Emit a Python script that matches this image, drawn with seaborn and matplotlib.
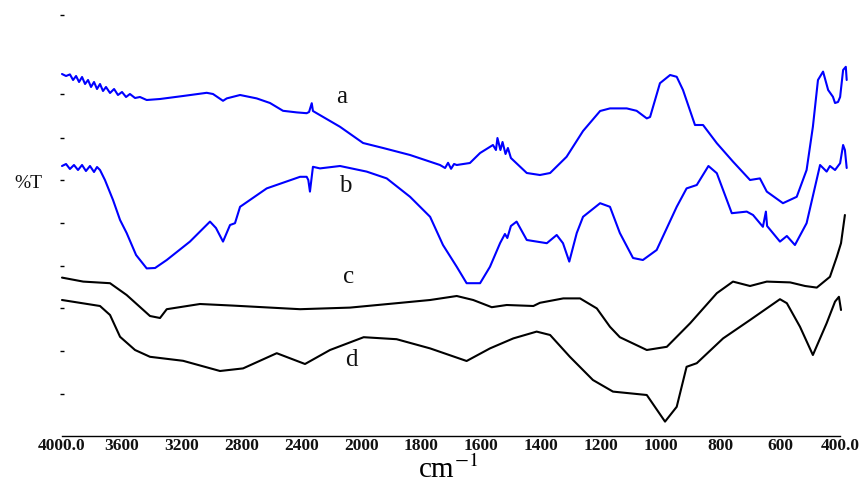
import numpy as np
import pandas as pd
import matplotlib
matplotlib.use("Agg")
import matplotlib.pyplot as plt
import seaborn as sns

# ---------------- data (wavenumber cm-1, %T arbitrary units) ----------------
a_wn = [4000, 3973, 3947, 3926, 3906, 3886, 3866, 3846, 3826, 3806, 3786, 3766, 3746,
        3726, 3706, 3679, 3652, 3626, 3599, 3572, 3546, 3512, 3479, 3434, 3345, 3191,
        3033, 2991, 2924, 2899, 2810, 2699, 2610, 2523, 2431, 2365, 2349, 2331, 2323,
        2298, 2142, 1994, 1927, 1837, 1737, 1720, 1710, 1700, 1690, 1681, 1637, 1603,
        1560, 1550, 1545, 1535, 1528, 1518, 1510, 1500, 1493, 1447, 1403, 1369, 1314,
        1259, 1202, 1169, 1113, 1080, 1046, 1035, 1002, 968, 946, 925, 885, 858, 812,
        758, 701, 668, 645, 591, 545, 512, 491, 474, 457, 440, 424, 417, 407, 400, 390,
        381, 378]
a_T = [91.5, 91.0, 91.4, 90.0, 91.0, 89.5, 90.75, 89.0, 90.0, 88.25, 89.5, 87.75, 89.0,
       87.25, 88.25, 86.75, 87.75, 86.25, 87.0, 85.75, 86.5, 85.5, 85.75, 85.0, 85.25, 86.0,
       86.8, 86.5, 84.8, 85.4, 86.25, 85.4, 84.25, 82.3, 81.9, 81.7, 82.0, 84.2, 82.25,
       81.7, 78.3, 74.25, 73.0, 71.25, 68.75, 68.0, 69.3, 67.8, 69.0, 68.75, 69.25, 71.75,
       73.75, 72.5, 75.5, 72.5, 74.5, 71.5, 73.0, 70.5, 70.0, 66.75, 66.25, 66.75, 70.8,
       77.25, 82.25, 82.9, 82.9, 82.3, 80.4, 80.75, 89.2, 91.25, 90.8, 87.5, 78.75, 78.75, 74.2,
       69.6, 65.0, 65.4, 62.1, 59.2, 60.8, 67.5, 78.3, 90.0, 92.1, 87.5, 85.8, 84.25, 84.5,
       85.75, 92.5, 93.3, 90.0]

b_wn = [4000, 3973, 3947, 3920, 3893, 3866, 3840, 3813, 3786, 3766, 3746, 3713, 3659,
        3612, 3568, 3505, 3434, 3378, 3300, 3145, 3011, 2971, 2924, 2877, 2844, 2810,
        2632, 2409, 2365, 2354, 2343, 2323, 2276, 2142, 1982, 1915, 1837, 1770, 1727,
        1681, 1648, 1603, 1570, 1536, 1520, 1512, 1500, 1481, 1447, 1380, 1347, 1326,
        1305, 1280, 1259, 1202, 1169, 1136, 1092, 1059, 1013, 946, 913, 879, 840, 812,
        762, 712, 691, 658, 648, 644, 601, 578, 551, 512, 467, 445, 434, 417, 400, 390,
        384, 378]
b_T = [68.5, 69.0, 67.75, 68.75, 67.5, 68.75, 67.25, 68.5, 67.0, 68.25, 67.5, 65.0, 60.0,
       55.0, 51.75, 46.25, 42.9, 43.0, 45.0, 49.6, 54.6, 53.0, 49.6, 53.75, 54.2, 58.3,
       62.9, 65.8, 65.8, 65.0, 62.1, 68.3, 67.9, 68.5, 67.1, 65.4, 60.8, 55.8, 48.75,
       43.3, 39.2, 39.2, 43.3, 49.25, 51.5, 50.5, 53.5, 54.6, 50.0, 49.2, 51.25, 49.2,
       44.6, 51.75, 55.8, 59.2, 58.3, 51.75, 45.5, 45.0, 47.5, 58.3, 62.9, 63.75, 68.5, 66.7,
       56.7, 57.1, 56.25, 53.3, 57.1, 53.5, 49.6, 51.0, 48.75, 54.2, 68.75, 67.1, 68.5, 67.5,
       69.2, 73.75, 72.5, 68.0]

c_wn = [4000, 3858, 3679, 3568, 3412, 3345, 3300, 3078, 2857, 2409, 2075, 1882, 1770,
        1681, 1626, 1564, 1514, 1425, 1403, 1325, 1269, 1213, 1169, 1136, 1046, 979, 901,
        812, 758, 701, 645, 567, 517, 478, 434, 411, 397, 384]
c_T = [40.6, 39.6, 39.2, 36.25, 31.0, 30.5, 32.7, 34.0, 33.6, 32.7, 33.1, 34.2, 35.0,
       36.0, 35.0, 33.2, 33.75, 33.5, 34.3, 35.4, 35.4, 32.9, 28.3, 25.7, 22.5, 23.3, 29.2,
       36.7, 39.6, 38.5, 39.6, 39.4, 38.5, 38.1, 40.8, 45.8, 49.2, 56.25]

d_wn = [4000, 3746, 3679, 3612, 3512, 3412, 3191, 2944, 2790, 2565, 2376, 2209, 1992,
        1882, 1770, 1648, 1570, 1492, 1414, 1369, 1303, 1226, 1159, 1046, 985, 946, 913,
        879, 791, 701, 601, 578, 534, 491, 445, 417, 404, 397]
d_T = [35.0, 33.5, 31.25, 25.8, 22.5, 20.8, 19.8, 17.25, 17.9, 21.7, 19.0, 22.5, 25.7,
       25.2, 22.9, 19.75, 22.9, 25.4, 27.1, 26.25, 20.8, 15.0, 12.1, 11.25, 4.6, 8.3, 18.3,
       19.2, 25.4, 30.0, 35.2, 34.2, 28.3, 21.25, 29.2, 34.6, 35.8, 32.5]

series_names = ["a", "b", "c", "d"]
series_colors = ["#0000ff", "#0000ff", "#000000", "#000000"]
label_wn = [2131, 2109, 2087, 2064]
label_T = [85.8, 63.5, 40.8, 20.0]

xtick_values = [4000, 3600, 3200, 2800, 2400, 2000, 1800, 1600, 1400, 1200, 1000, 800, 600, 400]
xtick_labels = ["4000.0", "3600", "3200", "2800", "2400", "2000", "1800", "1600",
                "1400", "1200", "1000", "800", "600", "400.0"]
ytick_values = [11.5, 22.3, 32.9, 43.6, 54.2, 65.0, 75.4, 86.4, 106.25]

# ---------------- figure ----------------
sns.set_style("white")
plt.rcParams["font.family"] = ["Liberation Serif", "DejaVu Serif"]
plt.rcParams["mathtext.fontset"] = "stix"

fig = plt.figure(figsize=(8.64, 4.88), dpi=100)
ax = fig.add_axes([62 / 864, 52 / 488, (847 - 62) / 864, (436 - 15) / 488])

frames = []
for name, wn, T in zip(series_names, [a_wn, b_wn, c_wn, d_wn], [a_T, b_T, c_T, d_T]):
    frames.append(pd.DataFrame({"wn": wn, "T": T, "s": name}))
df = pd.concat(frames, ignore_index=True)

sns.lineplot(data=df, x="wn", y="T", hue="s", palette=dict(zip(series_names, series_colors)),
             estimator=None, sort=False, linewidth=1.5, legend=False, ax=ax)
for ln in ax.get_lines():
    ln.set_clip_on(False)


def fwd(x):
    x = np.asarray(x, dtype=float)
    return np.where(x <= 2000, x, 2000 + (x - 2000) / 2)


def inv(u):
    u = np.asarray(u, dtype=float)
    return np.where(u <= 2000, u, 2000 + 2 * (u - 2000))


ax.set_xscale("function", functions=(fwd, inv))
ax.set_xlim(4000, 377)
ax.set_ylim(1.0, 106.25)

ax.set_xticks(xtick_values)
ax.set_xticklabels(xtick_labels, fontsize=12.5, fontweight="bold", color="#111111")
ax.xaxis.set_minor_locator(matplotlib.ticker.NullLocator())
ax.tick_params(axis="x", length=0, pad=1.5)
ax.set_yticks(ytick_values)
ax.set_yticklabels([])
ax.tick_params(axis="y", direction="inout", length=3.5, width=1.0, color="black", left=True)

for side in ["top", "right", "left"]:
    ax.spines[side].set_visible(False)
ax.spines["bottom"].set_color("black")
ax.spines["bottom"].set_linewidth(1.0)
ax.spines["bottom"].set_bounds(400, 4000)
ax.set_xlabel("")
ax.set_ylabel("")

for name, x, y in zip(series_names, label_wn, label_T):
    ax.text(x, y, name, fontsize=18, ha="center", va="center", color="#111111")

fig.text(28 / 864, 1 - 183 / 488, "%T", fontsize=14, ha="center", va="center", color="#111111")
fig.text(418 / 864, 1 - 478 / 488, r"cm$^{-1}$", fontsize=21,
         ha="left", va="baseline", color="black")

fig.savefig("out.png", dpi=100)
